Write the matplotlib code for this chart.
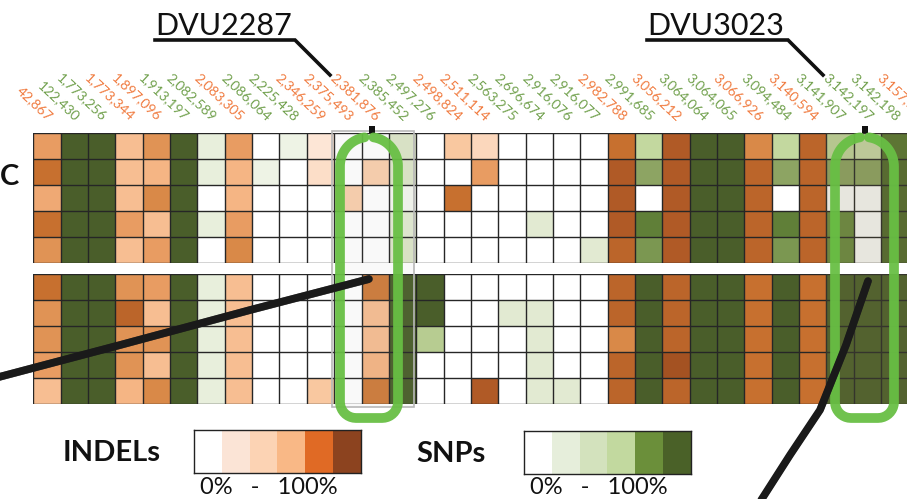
import numpy as np
import matplotlib
matplotlib.use('Agg')
import matplotlib.pyplot as plt
from matplotlib.colors import LinearSegmentedColormap, ListedColormap
from matplotlib.patches import Rectangle

# ---------------- data ----------------
positions = ['42,867', '122,430', '1,773,256', '1,773,344', '1,897,096', '1,913,197',
             '2,082,589', '2,083,305', '2,086,064', '2,225,428', '2,346,259', '2,375,493',
             '2,381,876', '2,385,452', '2,497,276', '2,498,824', '2,511,114', '2,563,275',
             '2,696,674', '2,916,076', '2,916,077', '2,982,788', '2,991,685', '3,056,212',
             '3,064,064', '3,064,065', '3,066,926', '3,094,484', '3,140,594', '3,141,907',
             '3,142,197', '3,142,198', '3,157,720']
# I = INDEL column, S = SNP column
col_types = list("ISSIISSISSIIISSIISSSSISISSISISSSI")

top_values = [
    [.60, 1, 1, .45, .65, 1, .20, .60, 0, .15, .20, 0, 0, .30, 0, .40, .30, 0, 0, 0, 0, .80, .50, .90, 1, 1, .70, .50, .85, .50, .45, .90, .80],
    [.80, 1, 1, .45, .50, 1, .20, .50, .15, 0, .25, 0, .35, .30, 0, 0, .60, 0, 0, 0, 0, .90, .70, .90, 1, 1, .85, .70, .85, .70, .70, .95, .80],
    [.55, 1, 1, .45, .70, 1, 0, .50, 0, 0, 0, .35, 0, .10, 0, .80, 0, 0, 0, 0, 0, .90, 0, .90, 1, 1, .85, 0, .85, 0, 0, .95, .80],
    [.80, 1, 1, .60, .45, 1, .20, .60, 0, 0, 0, 0, 0, .25, 0, 0, 0, 0, .25, 0, 0, .90, .85, .90, 1, 1, .85, .85, .85, .80, 0, .95, .80],
    [.65, 1, 1, .45, .60, 1, 0, .70, 0, 0, 0, 0, 0, .30, 0, 0, 0, 0, 0, 0, .25, .85, .75, .90, 1, 1, .85, .75, .85, .80, 0, .95, .80],
]
bottom_values = [
    [.80, 1, 1, .65, .60, 1, .20, .45, 0, 0, 0, 0, .75, 1, 1, 0, 0, 0, 0, 0, 0, .85, 1, .85, 1, 1, .80, 1, .80, 1, 1, 1, .80],
    [.65, 1, 1, .85, .45, 1, .20, .45, 0, 0, 0, 0, .45, 1, 1, 0, 0, .25, .25, 0, 0, .85, 1, .85, 1, 1, .80, 1, .80, 1, 1, 1, .80],
    [.65, 1, 1, .65, .65, 1, .20, .45, 0, 0, 0, 0, .45, 1, .55, 0, 0, 0, .25, 0, 0, .70, 1, .85, 1, 1, .80, 1, .80, 1, 1, 1, .80],
    [.60, 1, 1, .65, .45, 1, .20, .45, 0, 0, 0, 0, .50, 1, 0, 0, 0, 0, .25, 0, 0, .85, 1, .95, 1, 1, .80, 1, .80, 1, 1, 1, .80],
    [.45, 1, 1, .50, .70, 1, .20, .45, 0, 0, .40, 0, .75, 1, 0, 0, .90, 0, .25, .25, 0, .85, 1, .85, 1, 1, .80, 1, .80, 1, 1, 1, .80],
]
genes = ['DVU2287', 'DVU3023']
legend_titles = ['INDELs', 'SNPs']
legend_range = '0%   -   100%'

# ---------------- styles ----------------
W, H = 907, 499
indel_cmap = LinearSegmentedColormap.from_list('indel', [
    (0, '#ffffff'), (0.2, '#fde6d6'), (0.4, '#f9c8a0'), (0.5, '#f5b585'),
    (0.6, '#e89c62'), (0.7, '#d98a48'), (0.8, '#c7702f'), (0.9, '#b05a26'), (1, '#9a4a1f')])
snp_cmap = LinearSegmentedColormap.from_list('snp', [
    (0, '#ffffff'), (0.2, '#e8efdc'), (0.3, '#dce6c8'), (0.5, '#c4d8a0'),
    (0.7, '#8ea564'), (0.8, '#6a8a40'), (0.9, '#577530'), (1, '#4a5e2a')])
indel_legend = ['#ffffff', '#fbe4d6', '#fcd3b4', '#f9b886', '#e06a25', '#8c431f']
snp_legend = ['#ffffff', '#e6eedb', '#d3e2bd', '#c2d99f', '#6b8f3a', '#4a6128']
label_colors = {'I': '#f07a3e', 'S': '#70a04c'}
FONT = 'Lato'


def px(x0, y0, x1, y1):
    return [x0 / W, 1 - y1 / H, (x1 - x0) / W, (y1 - y0) / H]


fig = plt.figure(figsize=(W / 100, H / 100), dpi=100)

ncol = len(positions)
x_left, cw = 33.3, 27.35
is_indel = np.array([t == 'I' for t in col_types])


def draw_block(values, y0, y1):
    ax = fig.add_axes(px(x_left, y0, x_left + ncol * cw, y1))
    v = np.array(values, dtype=float)
    nrow = v.shape[0]
    mask_i = np.broadcast_to(~is_indel, v.shape)
    ax.pcolormesh(np.ma.masked_array(v, mask_i), cmap=indel_cmap, vmin=0, vmax=1)
    ax.pcolormesh(np.ma.masked_array(v, ~mask_i), cmap=snp_cmap, vmin=0, vmax=1)
    for i in range(ncol + 1):
        ax.axvline(i, color='#262626', lw=1.0, zorder=3)
    for j in range(nrow + 1):
        ax.axhline(j, color='#262626', lw=1.0, zorder=3)
    # tinted highlight over last gene's columns
    ax.add_patch(Rectangle((29, 0), 4, nrow, facecolor='#7d7548', alpha=0.18,
                           edgecolor='none', zorder=4))
    ax.set_xlim(0, ncol)
    ax.set_ylim(nrow, 0)
    ax.axis('off')
    return ax


ax_top = draw_block(top_values, 133, 263)
ax_bot = draw_block(bottom_values, 274, 404)

for i, (lab, t) in enumerate(zip(positions, col_types)):
    ax_top.text(i + 0.62, -0.55, lab, rotation=-43, rotation_mode='anchor',
                ha='right', va='center', fontsize=10, color=label_colors[t],
                family=FONT, clip_on=False)

# ---------------- overlay annotations ----------------
ov = fig.add_axes([0, 0, 1, 1], zorder=5)
ov.set_xlim(0, W)
ov.set_ylim(H, 0)
ov.axis('off')
ov.patch.set_alpha(0)

# grey highlight box around DVU2287 columns
ov.add_patch(Rectangle((332, 131), 82, 276, facecolor='#9a9a9a', alpha=0.06,
                       edgecolor='none'))
ov.add_patch(Rectangle((332, 131), 82, 276, facecolor='none', edgecolor='#b8b8b8',
                       lw=1.2))

# panel letter
ov.text(0, 177, 'C', fontsize=21, family=FONT, weight='bold', ha='left', va='center',
        color='#111111')

# callouts
for name, tx, ux1, dx, sqx in [(genes[0], 155, 295, 330, 372), (genes[1], 647, 788, 823, 865)]:
    ov.text(tx, 35, name, fontsize=22, family=FONT, ha='left', va='baseline', color='#111111')
    ov.plot([tx, ux1, dx], [40, 40, dx - ux1 + 40], color='#111111', lw=2.6,
            solid_joinstyle='miter')
    ov.add_patch(Rectangle((sqx - 3, 126), 6, 7, facecolor='#111111', edgecolor='none'))


def loop(xl, xr, ytop, ybot, gap, rc=16):
    xc = (xl + xr) / 2
    r = (xr - xl) / 2
    pts = []
    a0 = np.arccos(min(1, gap / 2 / r))
    for a in np.linspace(a0, 0, 20):
        pts.append((xc + r * np.cos(a), ytop + r - r * np.sin(a)))
    for a in np.linspace(0, np.pi / 2, 10):
        pts.append((xr - rc + rc * np.cos(a), ybot - rc + rc * np.sin(a)))
    for a in np.linspace(np.pi / 2, np.pi, 10):
        pts.append((xl + rc + rc * np.cos(a), ybot - rc + rc * np.sin(a)))
    for a in np.linspace(np.pi, np.pi - a0, 20):
        pts.append((xc + r * np.cos(a), ytop + r - r * np.sin(a)))
    return np.array(pts)


for xl, xr in [(340, 398), (835, 894)]:
    p = loop(xl, xr, 137, 418, 9)
    ov.plot(p[:, 0], p[:, 1], color='#68bf44', lw=7, solid_capstyle='round', alpha=0.95)

# hand-drawn black strokes
s1x = np.array([-5, 120, 250, 369])
s1y = np.array([378, 345, 310, 279])
ov.plot(s1x, s1y, color='#1a1a1a', lw=5.5, solid_capstyle='round')
ov.plot(s1x, s1y + 3, color='#1a1a1a', lw=1.5, alpha=0.7)
ov.plot(s1x, s1y - 3, color='#1a1a1a', lw=1.2, alpha=0.6)
s2x = np.array([868, 846, 820, 790, 758])
s2y = np.array([281, 345, 410, 455, 505])
ov.plot(s2x, s2y, color='#1a1a1a', lw=5.5, solid_capstyle='round')
ov.plot(s2x + 3, s2y, color='#1a1a1a', lw=1.3, alpha=0.6)
ov.plot(s2x - 3, s2y, color='#1a1a1a', lw=1.0, alpha=0.5)

# ---------------- legends ----------------
for title, cols, (x0, x1), tx, y0 in [(legend_titles[0], indel_legend, (194, 361), 63, 430),
                                       (legend_titles[1], snp_legend, (524, 691), 416, 431)]:
    lax = fig.add_axes(px(x0, y0, x1, y0 + 43))
    lax.imshow(np.arange(len(cols))[None, :], cmap=ListedColormap(cols), aspect='auto',
               interpolation='nearest')
    lax.set_xticks([])
    lax.set_yticks([])
    for s in lax.spines.values():
        s.set_linewidth(1.0)
        s.set_color('#222222')
    ov.text(tx, y0 + 23, title, fontsize=21, family=FONT, weight='bold', ha='left',
            va='center', color='#111111')
    ov.text((x0 + x1) / 2 - 9, 487, legend_range, fontsize=17, family=FONT,
            ha='center', va='center', color='#111111')

fig.savefig('out.png', dpi=100)
